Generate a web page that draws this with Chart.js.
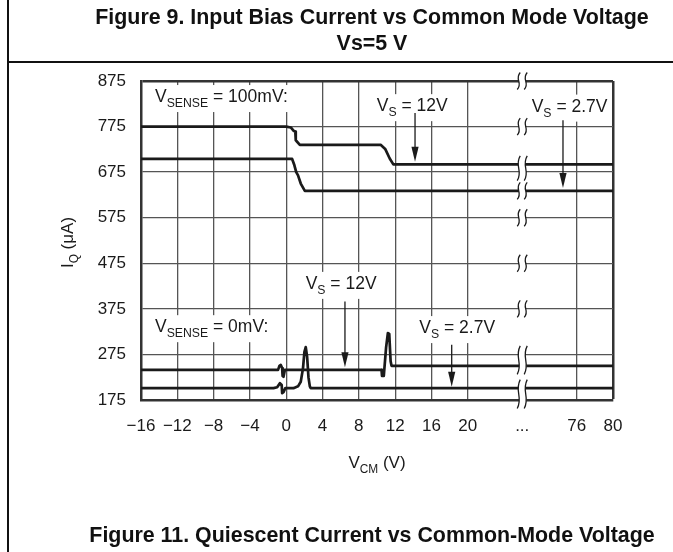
<!DOCTYPE html>
<html>
<head>
<meta charset="utf-8">
<script src="https://cdn.jsdelivr.net/npm/chart.js@4.4.1/dist/chart.umd.min.js"></script>
<style>
html, body { margin: 0; padding: 0; background: #fff; }
#page { position: relative; width: 673px; height: 552px; overflow: hidden; font-family: "Liberation Sans", Arial, sans-serif; color: #111; }
#graph { position: absolute; left: 0; top: 0; }
.rule-v { position: absolute; left: 7px; top: 0; width: 2px; height: 552px; background: #111; }
.rule-h { position: absolute; left: 7px; top: 61px; width: 666px; height: 2px; background: #111; }
.cap { position: absolute; left: 372px; transform: translateX(-50%); white-space: nowrap; font-weight: bold; font-size: 21.4px; line-height: 24px; }
</style>
</head>
<body>
<div id="page">
  <canvas id="graph" width="673" height="552"></canvas>
  <div class="rule-v"></div>
  <div class="rule-h"></div>
  <div class="cap" style="top:5px">Figure 9. Input Bias Current vs Common Mode Voltage</div>
  <div class="cap" style="top:31px">Vs=5 V</div>
  <div class="cap" style="top:523px">Figure 11. Quiescent Current vs Common-Mode Voltage</div>
</div>
<script>
// 軸目盛り (x軸は 20V と 76V の間が省略されている)
const xTickPos = [-16, -12, -8, -4, 0, 4, 8, 12, 16, 20, 26, 32, 36];
const xTickLabels = ['\u221216', '\u221212', '\u22128', '\u22124', '0', '4', '8', '12', '16', '20', '...', '76', '80'];
const yTicks = [175, 275, 375, 475, 575, 675, 775, 875];

// VSENSE = 100mV
const vcm100_12 = [-16, 0, 0.5, 0.8, 1.0, 1.05, 1.5, 10.4, 10.9, 11.4, 11.8, 20, 76, 80];
const iq100_12  = [775, 775, 773, 766, 764, 745, 735, 735, 726, 705, 692, 692, 692, 692];
const vcm100_27 = [-16, 0.65, 0.9, 1.1, 1.3, 1.6, 2.05, 20, 76, 80];
const iq100_27  = [704, 704, 690, 675, 668, 650, 634, 634, 634, 634];
// VSENSE = 0mV
const vcm0_12 = [-16, -0.9, -0.75, -0.6, -0.45, -0.4, -0.3, -0.15, 10.5, 10.55, 10.75, 11.0, 11.2, 11.35, 11.5, 11.6, 20, 76, 80];
const iq0_12  = [241, 241, 250, 252, 245, 228, 226, 241, 241, 228, 228, 290, 322, 320, 260, 250, 250, 250, 250];
const vcm0_27 = [-16, -1.4, -1.0, -0.7, -0.5, -0.45, -0.3, -0.1, 0.8, 1.3, 1.6, 1.85, 2.0, 2.15, 2.3, 2.45, 2.6, 2.7, 20, 76, 80];
const iq0_27  = [201, 201, 203, 212, 208, 190, 192, 201, 201, 205, 215, 245, 280, 291, 270, 225, 205, 201, 201, 201, 201];

const BREAK_START = 20;   // 省略開始
const BREAK_SHIFT = 44;   // 76V -> 軸上32
const BREAK_AT = 26;      // 省略記号の位置

const FONT = '"Liberation Sans", Arial, sans-serif';
const INK = '#1a1a1a';
const NOTE_SIZE = 17.5;

//実際の電圧 -> 軸座標
function toAxis(v) { return v <= BREAK_START ? v : v - BREAK_SHIFT; }
function toPoints(xs, ys) { return xs.map((x, i) => ({ x: toAxis(x), y: ys[i] })); }

// 注記 (位置は軸座標)
const notes = [
  { parts: [['V', 0], ['SENSE', 1], [' = 100mV:', 0]], u: -14.46, v: 842 },
  { parts: [['V', 0], ['S', 1], [' = 12V', 0]], u: 9.97, v: 822, arrow: { u: 14.19, from: 805, to: 698 } },
  { parts: [['V', 0], ['S', 1], [' = 2.7V', 0]], u: 27.04, v: 821, arrow: { u: 30.49, from: 789, to: 640 } },
  { parts: [['V', 0], ['S', 1], [' = 12V', 0]], u: 2.14, v: 432, arrow: { u: 6.47, from: 391, to: 247 } },
  { parts: [['V', 0], ['SENSE', 1], [' = 0mV:', 0]], u: -14.46, v: 337 },
  { parts: [['V', 0], ['S', 1], [' = 2.7V', 0]], u: 14.66, v: 335, arrow: { u: 18.23, from: 296, to: 204 } }
];

// 下付き文字つきテキスト
function richWidth(c, parts, size) {
  let w = 0;
  for (const [t, sub] of parts) {
    c.font = (sub ? size * 0.7 : size) + 'px ' + FONT;
    w += c.measureText(t).width;
  }
  return w;
}
function drawRich(c, parts, x, y, size) {
  for (const [t, sub] of parts) {
    c.font = (sub ? size * 0.7 : size) + 'px ' + FONT;
    c.fillText(t, x, sub ? y + size * 0.3 : y);
    x += c.measureText(t).width;
  }
}

// 波線 (軸省略記号)
function drawBreak(c, cx, top, bottom) {
  const h = bottom - top;
  const curve = (x0, dir) => {
    if (dir > 0) {
      c.moveTo(x0 + 1.5, top);
      c.bezierCurveTo(x0 - 4.5, top + h * 0.4, x0 + 4.5, top + h * 0.6, x0 - 1.5, bottom);
    } else {
      c.lineTo(x0 - 1.5, bottom);
      c.bezierCurveTo(x0 + 4.5, top + h * 0.6, x0 - 4.5, top + h * 0.4, x0 + 1.5, top);
    }
  };
  c.beginPath();
  curve(cx - 3.5, 1);
  curve(cx + 3.5, -1);
  c.closePath();
  c.fillStyle = '#fff';
  c.fill();
  c.beginPath();
  curve(cx - 3.5, 1);
  c.moveTo(cx + 5, top);
  c.bezierCurveTo(cx - 1, top + h * 0.4, cx + 8, top + h * 0.6, cx + 2, bottom);
  c.strokeStyle = INK;
  c.lineWidth = 1.3;
  c.stroke();
}

const notePlugin = {
  id: 'notes',
  beforeDatasetsDraw(chart) {
    const c = chart.ctx, xs = chart.scales.x, ys = chart.scales.y;
    c.save();
    c.fillStyle = '#fff';
    for (const n of notes) {
      const w = richWidth(c, n.parts, NOTE_SIZE);
      const x = xs.getPixelForValue(n.u), y = ys.getPixelForValue(n.v);
      const top = Math.max(y - 11, chart.chartArea.top + 2);
      c.fillRect(x - 3, top, w + 6, y + 16 - top);
    }
    c.restore();
  },
  afterDatasetsDraw(chart) {
    const c = chart.ctx, xs = chart.scales.x, ys = chart.scales.y;
    c.save();
    // 省略記号: 目盛線とデータ線の位置
    const levels = yTicks.slice();
    for (const ds of chart.data.datasets) levels.push(ds.data[ds.data.length - 1].y);
    const px = levels.map(v => ys.getPixelForValue(v)).sort((a, b) => a - b);
    const groups = [];
    for (const p of px) {
      const g = groups[groups.length - 1];
      if (g && p - g.max < 16) g.max = p; else groups.push({ min: p, max: p });
    }
    const bx = xs.getPixelForValue(BREAK_AT);
    for (const g of groups) drawBreak(c, bx, g.min - 8.5, g.max + 8.5);

    // 注記と矢印
    c.fillStyle = INK;
    c.strokeStyle = INK;
    c.textBaseline = 'alphabetic';
    for (const n of notes) {
      const x = xs.getPixelForValue(n.u), y = ys.getPixelForValue(n.v);
      drawRich(c, n.parts, x, y + 6, NOTE_SIZE);
      if (n.arrow) {
        const ax = xs.getPixelForValue(n.arrow.u);
        const y0 = ys.getPixelForValue(n.arrow.from), y1 = ys.getPixelForValue(n.arrow.to);
        c.beginPath();
        c.moveTo(ax, y0);
        c.lineTo(ax, y1 - 12);
        c.lineWidth = 1.3;
        c.stroke();
        c.beginPath();
        c.moveTo(ax - 3.6, y1 - 15);
        c.lineTo(ax + 3.6, y1 - 15);
        c.lineTo(ax, y1);
        c.closePath();
        c.fill();
      }
    }
    c.restore();
  },
  afterDraw(chart) {
    const c = chart.ctx, a = chart.chartArea;
    c.save();
    c.fillStyle = INK;
    c.textBaseline = 'alphabetic';
    // x軸タイトル
    const xt = [['V', 0], ['CM', 1], [' (V)', 0]];
    const wx = richWidth(c, xt, 17);
    drawRich(c, xt, (a.left + a.right) / 2 - wx / 2, a.bottom + 68, 17);
    // y軸タイトル
    const yt = [['I', 0], ['Q', 1], [' (\u03bcA)', 0]];
    const wy = richWidth(c, yt, 17);
    c.translate(a.left - 68, (a.top + a.bottom) / 2 + 2);
    c.rotate(-Math.PI / 2);
    drawRich(c, yt, -wy / 2, 0, 17);
    c.restore();
  }
};

const lineStyle = { borderColor: INK, borderWidth: 2.7, pointRadius: 0, tension: 0, fill: false, borderJoinStyle: 'round' };

new Chart(document.getElementById('graph'), {
  type: 'line',
  data: {
    datasets: [
      Object.assign({ label: 'VSENSE=100mV VS=12V', data: toPoints(vcm100_12, iq100_12) }, lineStyle),
      Object.assign({ label: 'VSENSE=100mV VS=2.7V', data: toPoints(vcm100_27, iq100_27) }, lineStyle),
      Object.assign({ label: 'VSENSE=0mV VS=12V', data: toPoints(vcm0_12, iq0_12) }, lineStyle),
      Object.assign({ label: 'VSENSE=0mV VS=2.7V', data: toPoints(vcm0_27, iq0_27) }, lineStyle)
    ]
  },
  options: {
    responsive: false,
    animation: false,
    devicePixelRatio: 1,
    layout: { padding: { top: 81, right: 60, left: 0, bottom: 0 } },
    plugins: { legend: { display: false }, tooltip: { enabled: false } },
    scales: {
      x: {
        type: 'linear',
        min: -16,
        max: 36,
        afterBuildTicks: s => { s.ticks = xTickPos.map(v => ({ value: v })); },
        afterFit: s => { s.height = 152; },
        ticks: {
          autoSkip: false,
          maxRotation: 0,
          padding: 16,
          color: INK,
          font: { family: FONT, size: 17 },
          callback: v => xTickLabels[xTickPos.indexOf(v)]
        },
        grid: {
          drawTicks: false,
          color: c => (c.tick && c.tick.value === BREAK_AT) ? 'rgba(0,0,0,0)' : (c.tick && c.tick.value === 36 ? '#333' : '#555'),
          lineWidth: c => (c.tick && c.tick.value === 36) ? 2.5 : 1.3
        },
        border: { display: true, color: '#333', width: 2.5 }
      },
      y: {
        type: 'linear',
        min: 175,
        max: 875,
        afterBuildTicks: s => { s.ticks = yTicks.map(v => ({ value: v })); },
        afterFit: s => { s.width = 141; },
        ticks: {
          padding: 15,
          color: INK,
          font: { family: FONT, size: 17 }
        },
        grid: {
          drawTicks: false,
          color: c => (c.tick && c.tick.value === 875) ? '#333' : '#555',
          lineWidth: c => (c.tick && c.tick.value === 875) ? 2.5 : 1.3
        },
        border: { display: true, color: '#333', width: 2.5 }
      }
    }
  },
  plugins: [notePlugin]
});
</script>
</body>
</html>
